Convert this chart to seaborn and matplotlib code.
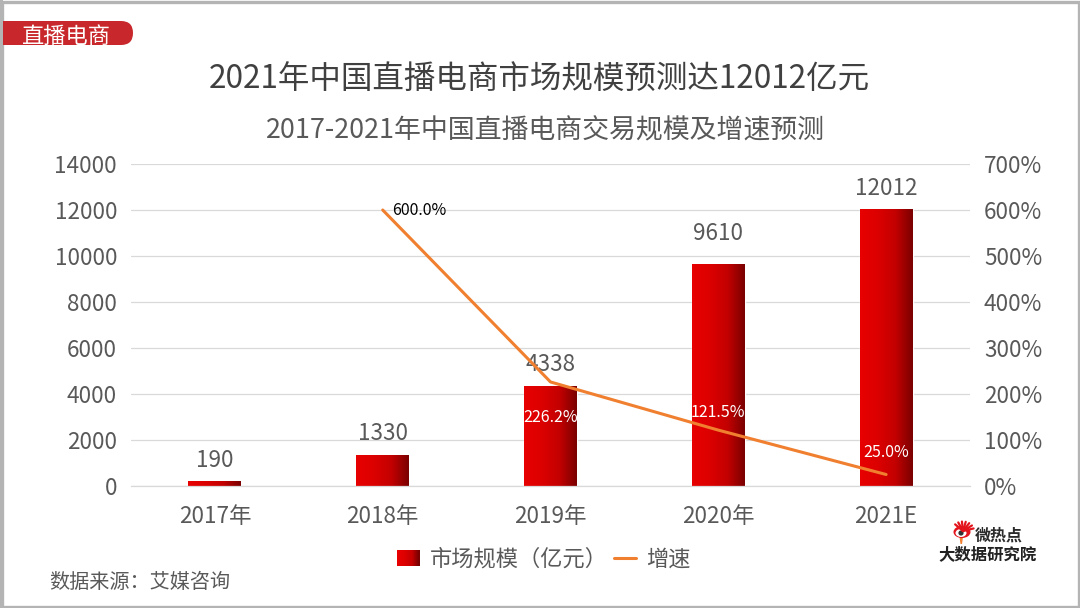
import numpy as np
import pandas as pd
import matplotlib
matplotlib.use("Agg")
import matplotlib.pyplot as plt
from matplotlib.colors import LinearSegmentedColormap
from matplotlib.legend_handler import HandlerBase
from matplotlib.lines import Line2D
from matplotlib.patches import Rectangle, FancyBboxPatch, Ellipse, Circle, Polygon
import seaborn as sns

years = ["2017年", "2018年", "2019年", "2020年", "2021E"]
market = [190, 1330, 4338, 9610, 12012]
growth = [np.nan, 600.0, 226.2, 121.5, 25.0]
growth_labels = [None, "600.0%", "226.2%", "121.5%", "25.0%"]
left_ticks = [0, 2000, 4000, 6000, 8000, 10000, 12000, 14000]
right_ticks = [0, 100, 200, 300, 400, 500, 600, 700]

sns.set_theme(style="white")
plt.rcParams["font.family"] = ["Noto Sans CJK SC", "DejaVu Sans"]
TXT = "#595959"
W, H = 1080, 608
fig = plt.figure(figsize=(W / 100, H / 100), dpi=100, facecolor="white")
ax = fig.add_axes([131 / W, 1 - 486 / H, 839 / W, 322 / H])
df = pd.DataFrame({"year": years, "market": market})
grad = LinearSegmentedColormap.from_list("g", ["#e80000", "#dc0000", "#c40000", "#7a0000"])
sns.barplot(data=df, x="year", y="market", ax=ax, width=0.315, color="#d00000", zorder=2)
ax.set_xlim(-0.5, 4.5)
ax.set_ylim(0, 14000)
g = np.linspace(0, 1, 256).reshape(1, -1)
for p in list(ax.patches):
    x0, w, h = p.get_x(), p.get_width(), p.get_height()
    ax.imshow(g, cmap=grad, extent=[x0, x0 + w, 0, h], aspect="auto", zorder=2.5, clip_on=True)
ax.set_xlim(-0.5, 4.5)
ax.set_ylim(0, 14000)
ax.set_yticks(left_ticks)
ax.yaxis.grid(True, color="#d9d9d9", lw=0.9, zorder=0)
ax.set_axisbelow(True)
ax.set_xlabel("")
ax.set_ylabel("")
ax.tick_params(axis="y", length=0, pad=10, labelsize=16.2, labelcolor=TXT)
ax.tick_params(axis="x", length=0, pad=13.5, labelsize=16.2, labelcolor=TXT)
for s in ["top", "left", "right"]:
    ax.spines[s].set_visible(False)
ax.spines["bottom"].set_color("#d9d9d9")
ax.spines["bottom"].set_linewidth(0.9)
label_offsets = [15.5, 15.5, 15.5, 23, 15.5]
for i, v in enumerate(market):
    ax.annotate(str(v), (i, v), xytext=(0, label_offsets[i]), textcoords="offset points", ha="center",
                va="center", fontsize=16.2, color=TXT, zorder=6)

ax2 = ax.twinx()
sns.lineplot(x=list(range(len(years))), y=growth, ax=ax2, color="#f08030", lw=2.2, zorder=5, legend=False)
ax2.set_xlim(-0.5, 4.5)
ax2.set_ylim(0, 700)
ax2.set_yticks(right_ticks)
ax2.set_yticklabels([f"{t}%" for t in right_ticks])
ax2.grid(False)
ax2.tick_params(axis="y", length=0, pad=10, labelsize=16.2, labelcolor=TXT)
for s in ax2.spines.values():
    s.set_visible(False)
offsets = [None, (7, -0.5), (0, -25.5), (0, 12.5), (0, 15.5)]
for i, lab in enumerate(growth_labels):
    if lab:
        ax2.annotate(lab, (i, growth[i]), xytext=offsets[i], textcoords="offset points",
                     ha="left" if i == 1 else "center", va="center", fontsize=11.5,
                     color="black" if i == 1 else "white", zorder=7)


class GradHandler(HandlerBase):
    def create_artists(self, legend, orig, xd, yd, width, height, fontsize, trans):
        n = 20
        return [Rectangle((-xd + width * k / n, -yd), width / n + 0.3, height, transform=trans,
                          facecolor=grad(k / (n - 1)), edgecolor="none") for k in range(n)]


bar_handle = Rectangle((0, 0), 1, 1)
line_handle = Line2D([], [], color="#f08030", lw=2.2)
fig.legend([bar_handle, line_handle], ["市场规模（亿元）", "增速"],
           handler_map={Rectangle: GradHandler()}, loc="center",
           bbox_to_anchor=(544 / W, 1 - 559 / H), ncols=2, frameon=False, fontsize=16,
           labelcolor=TXT, handlelength=1.0, handleheight=0.75, handletextpad=0.45, columnspacing=0.3)

ov = fig.add_axes([0, 0, 1, 1], zorder=10)
ov.set_xlim(0, W)
ov.set_ylim(H, 0)
ov.axis("off")
ov.patch.set_alpha(0)
ov.add_patch(Rectangle((1.5, 1.5), W - 3, H - 3, fill=False, ec="#b4b4b4", lw=2.4))
ov.add_patch(FancyBboxPatch((-10, 21), 143, 24, boxstyle="round,pad=0,rounding_size=12", fc="#c8282b", ec="none"))
ov.add_patch(Rectangle((0, 0), 3, H, fc="#b4b4b4", ec="none"))
ov.text(66, 36, "直播电商", color="white", fontsize=16, ha="center", va="center")
ov.text(539, 80, "2021年中国直播电商市场规模预测达12012亿元", color="#404040", fontsize=22.7, ha="center", va="center")
ov.text(545.5, 130.5, "2017-2021年中国直播电商交易规模及增速预测", color=TXT, fontsize=19.4, ha="center", va="center")
ov.text(49, 582, "数据来源：艾媒咨询", color=TXT, fontsize=14.5, ha="left", va="center")

# 微热点 logo
for angle in np.radians([-80, -60, -40, -20, 0, 20, 40]):
    ov.plot([963, 963 + 11 * np.sin(angle + 0.6)], [531, 531 - 9.5 * np.cos(angle + 0.6)],
            color="#e3141c", lw=1.6, solid_capstyle="round")
ov.add_patch(Polygon([(959.5, 537), (963, 537), (962, 544), (960.5, 544)], fc="#f08030", ec="none"))
ov.add_patch(Ellipse((962, 532), 17, 12, fc="#e3141c", ec="none"))
ov.add_patch(Ellipse((961, 533), 11, 8, fc="white", ec="none"))
ov.add_patch(Circle((961, 533), 2.6, fc="#333333", ec="none"))
ov.text(999, 536, "微热点", color="#2b2b2b", fontsize=11.5, fontweight="bold", ha="center", va="center")
ov.text(988, 554, "大数据研究院", color="#222222", fontsize=11.8, fontweight="bold", ha="center", va="center")

fig.savefig("out.png", dpi=100)
